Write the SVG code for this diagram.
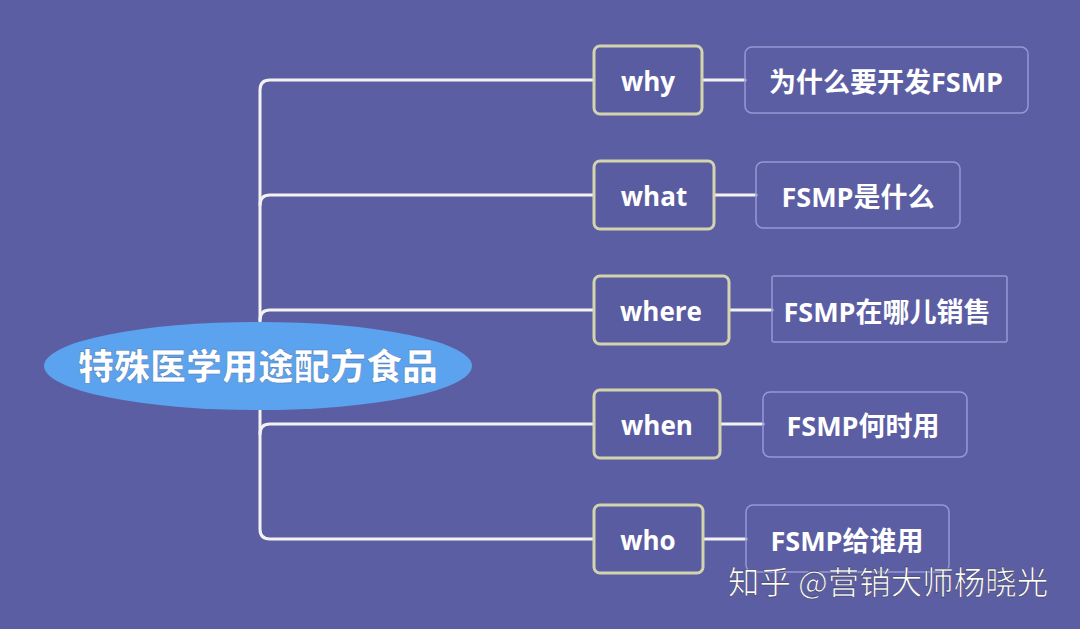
<svg xmlns="http://www.w3.org/2000/svg" width="1080" height="629" viewBox="0 0 1080 629">
<style>
.ln{fill:none;stroke:#f2f2f2;stroke-width:3;stroke-linecap:round}
.q{fill:#5a5ca2;stroke:#d3d3ae;stroke-width:3}
.a{fill:none;stroke:#9598d6;stroke-width:1.5}
.qt{font-family:"Open Sans","Noto Sans CJK SC",sans-serif;font-weight:bold;font-size:26px;fill:#ffffff;text-anchor:middle}
.at{font-family:"Open Sans","Noto Sans CJK SC",sans-serif;font-weight:bold;font-size:27px;fill:#ffffff;text-anchor:middle}
</style>
<rect width="1080" height="629" fill="#5c5ea3"/>
<g id="connectors">
<path class="ln" d="M594,80 H270 Q260,80 260,90 V529 Q260,539 270,539 H594"/>
<path class="ln" d="M260,205 Q260,195 270,195 H594"/>
<path class="ln" d="M260,320 Q260,310 270,310 H594"/>
<path class="ln" d="M260,434 Q260,424 270,424 H594"/>
<path class="ln" d="M702,80 H745"/>
<path class="ln" d="M714,195 H756"/>
<path class="ln" d="M729,310 H772"/>
<path class="ln" d="M720,424 H763"/>
<path class="ln" d="M703,539 H746"/>
</g>
<g id="root">
<ellipse cx="258" cy="366" rx="214" ry="44" fill="#5ba3ee"/>
<text x="258" y="380" font-family="Noto Sans CJK SC,sans-serif" font-weight="900" font-size="36" fill="#ffffff" text-anchor="middle" stroke="#4a7fc0" stroke-width="0.6">特殊医学用途配方食品</text>
</g>
<g id="why"><rect class="q" x="594" y="46" width="108" height="68" rx="6"/><text class="qt" x="648" y="91">why</text></g>
<g id="what"><rect class="q" x="594" y="161" width="120" height="68" rx="6"/><text class="qt" x="654" y="206">what</text></g>
<g id="where"><rect class="q" x="594" y="276" width="135" height="68" rx="6"/><text class="qt" x="661" y="321">where</text></g>
<g id="when"><rect class="q" x="594" y="390" width="126" height="68" rx="6"/><text class="qt" x="657" y="435">when</text></g>
<g id="who"><rect class="q" x="594" y="505" width="109" height="68" rx="6"/><text class="qt" x="648" y="550">who</text></g>
<g id="a-why"><rect class="a" x="745" y="47" width="283" height="66" rx="7"/><text class="at" x="886" y="92">为什么要开发FSMP</text></g>
<g id="a-what"><rect class="a" x="756" y="162" width="204" height="66" rx="7"/><text class="at" x="858" y="207">FSMP是什么</text></g>
<g id="a-where"><rect class="a" x="772" y="276" width="235" height="66" rx="2"/><text class="at" x="887" y="322">FSMP在哪儿销售</text></g>
<g id="a-when"><rect class="a" x="763" y="392" width="204" height="65" rx="7"/><text class="at" x="863" y="436">FSMP何时用</text></g>
<g id="a-who"><rect class="a" x="746" y="505" width="203" height="67" rx="7"/><text class="at" x="847" y="551">FSMP给谁用</text></g>
<text x="728" y="594" font-family="Noto Sans CJK SC,sans-serif" font-size="31.5" fill="#ffffff" stroke="#3a3a60" stroke-width="0.6">知乎 @营销大师杨晓光</text>
</svg>
